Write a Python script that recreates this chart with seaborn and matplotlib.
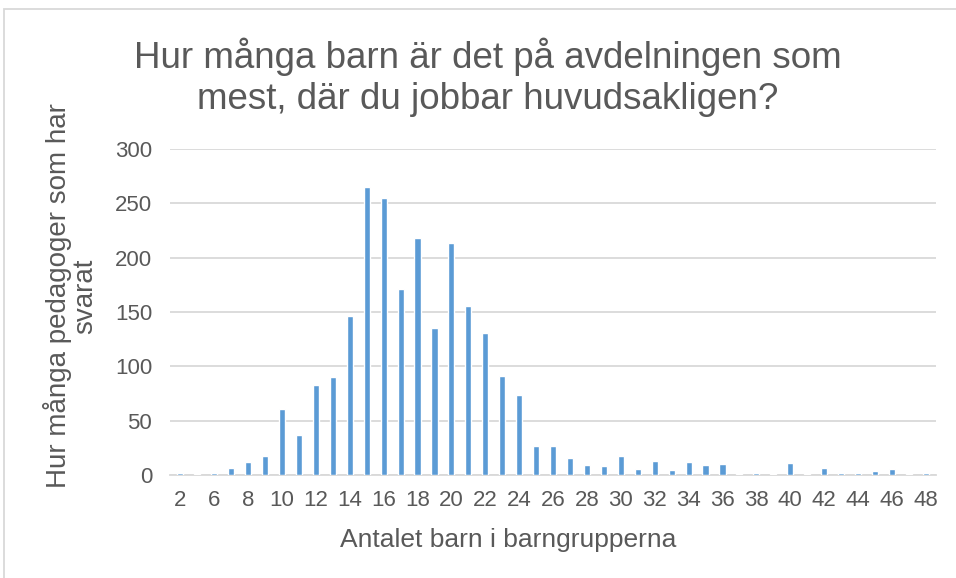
import matplotlib
matplotlib.use("Agg")
import matplotlib.pyplot as plt
from matplotlib.patches import Rectangle
import pandas as pd
import seaborn as sns

# Antal barn per avdelning och antal svar
barn = [2, 4, 6, 7, 8, 9] + list(range(10, 49))
svar = [2, 1, 2, 7, 12, 18,
        61, 37, 83, 90, 146, 265, 255, 171, 218, 135,
        214, 156, 131, 91, 74, 27, 27, 16, 9, 8,
        18, 6, 13, 5, 12, 9, 10, 1, 2, 1,
        11, 1, 7, 2, 2, 4, 6, 1, 2]

df = pd.DataFrame({"barn": [str(b) for b in barn], "svar": svar})

sns.set_style("white")
plt.rcParams["font.family"] = ["Liberation Sans", "DejaVu Sans"]
grey = "#595959"

fig = plt.figure(figsize=(9.56, 5.78), dpi=100)
ax = fig.add_axes([0.178, 0.178, 0.801, 0.564])

sns.barplot(data=df, x="barn", y="svar", color="#5B9BD5", width=0.36,
            saturation=1, ax=ax, zorder=3)

ax.set_ylim(0, 300)
ax.set_yticks(range(0, 301, 50))
ax.yaxis.grid(True, color="#D9D9D9", linewidth=1.3, zorder=0)
ax.set_xlim(-0.6, len(barn) - 0.4)

labels = [lab if i % 2 == 0 else "" for i, lab in enumerate(df["barn"])]
ax.set_xticks(range(len(barn)))
ax.set_xticklabels(labels)
ax.tick_params(axis="both", length=0, labelsize=16, labelcolor=grey)
ax.tick_params(axis="x", pad=11)
ax.tick_params(axis="y", pad=13)

for side in ["left", "right", "top"]:
    ax.spines[side].set_visible(False)
ax.spines["bottom"].set_color("#D9D9D9")
ax.spines["bottom"].set_linewidth(1.3)

ax.set_xlabel("Antalet barn i barngrupperna", fontsize=19, color=grey,
              labelpad=12, x=0.441)
ax.set_ylabel("Hur många pedagoger som har\nsvarat", fontsize=20, color=grey,
              labelpad=12, linespacing=1.0, y=0.55)

fig.text(0.51, 0.866, "Hur många barn är det på avdelningen som\nmest, där du jobbar huvudsakligen?",
         ha="center", va="center", fontsize=26.5, color=grey, linespacing=1.2)

# ram runt diagrammet
fig.patches.append(Rectangle((4 / 956, -0.05), 1.05, 1 - 9 / 578 + 0.05,
                             transform=fig.transFigure, fill=False,
                             edgecolor="#D9D9D9", linewidth=1.3))

fig.savefig("out.png", dpi=100)
